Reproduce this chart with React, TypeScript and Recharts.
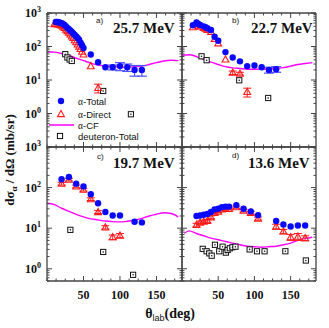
import React from "react";
import { ComposedChart, Scatter, Line, XAxis, YAxis, ErrorBar } from "recharts";

// [angle (deg), value (mb/sr), optional error]
type P = [number, number, number?];

const SERIF = "'Liberation Serif', 'Times New Roman', serif";
const SANS = "'Liberation Sans', Arial, sans-serif";
const FRAME = "#444";
const BLUE = "#0808ff";
const BLUE_ERR = "#5050ff";
const RED = "#ff1a1a";
const MAGENTA = "#ff00ff";

// ---- 25.7 MeV ----
const totalA: P[] = [
  [12, 540], [14, 540], [16, 530], [18, 515], [20, 500], [22, 470], [24, 440],
  [26, 400], [28, 360], [30, 330], [32, 300], [34, 270], [36, 245], [38, 220],
  [40, 200], [42, 180], [44, 160], [46, 130], [48, 110], [50, 90],
  [60, 58], [70, 34], [80, 24], [90, 24, 4], [100, 26, 7], [110, 24, 6], [120, 20, 7], [130, 20, 7],
];
const directA: P[] = [
  [10, 470], [12, 480], [14, 470], [16, 460], [18, 440], [20, 420], [22, 390],
  [24, 360], [26, 320], [28, 290], [30, 260], [32, 230], [34, 200], [36, 180],
  [38, 155], [40, 135], [42, 115], [44, 100], [46, 85], [48, 70], [50, 58],
  [60, 26], [70, 5.8, 1.7],
];
const deutA: P[] = [[25, 59], [28, 47], [31, 41], [34, 37], [77, 4.7], [115, 0.95]];
const cfA: P[] = [
  [0, 70], [10, 68], [20, 62], [30, 54], [40, 45], [50, 38], [60, 32], [70, 28],
  [80, 26], [90, 25], [100, 24.5], [110, 24], [120, 25], [130, 26], [140, 29],
  [150, 33], [160, 37], [170, 39], [180, 38],
];

// ---- 22.7 MeV ----
const totalB: P[] = [
  [15, 430], [20, 525], [22.5, 470], [25, 440], [30, 400], [32.5, 380], [35, 350],
  [40, 310], [45, 195], [50, 148], [60, 68], [70, 47], [80, 36], [90, 26],
  [100, 27], [110, 24], [120, 20, 4], [130, 21, 4],
];
const directB: P[] = [
  [15, 380], [20, 470], [22.5, 420], [25, 390], [30, 360], [32.5, 340], [35, 315],
  [40, 275], [45, 170], [50, 125], [60, 41], [70, 16.5, 2], [80, 15.5, 1.5], [90, 4.4, 1.3],
];
const deutB: P[] = [[27, 51], [34, 39], [79, 9.8], [119, 2.9]];
const cfB: P[] = [
  [0, 55], [10, 57], [20, 50], [30, 41], [40, 34], [50, 29], [60, 25], [70, 23],
  [80, 22], [90, 21], [100, 21], [110, 21], [120, 21.5], [130, 22], [140, 23.5],
  [150, 26], [160, 29], [170, 31], [180, 33],
];

// ---- 19.7 MeV ----
const totalC: P[] = [
  [20, 160], [30, 182], [40, 125], [50, 107], [60, 69], [70, 41], [80, 25],
  [90, 20.6], [100, 20.6], [120, 14.4], [130, 13.9],
];
const directC: P[] = [
  [20, 125, 10], [30, 157, 12], [40, 107, 8], [50, 89, 7], [60, 52, 4], [70, 25, 2],
  [80, 10.5, 1], [90, 6.0, 0.8], [100, 6.6, 0.8],
];
const deutC: P[] = [[32, 9.1], [77, 2.6], [118, 0.71]];
const cfC: P[] = [
  [0, 41], [10, 38], [20, 31], [30, 26], [40, 22], [50, 19], [60, 17], [70, 16],
  [80, 15], [90, 14.5], [100, 14.3], [110, 14.8], [120, 15.8], [130, 17.5],
  [140, 20], [150, 22], [160, 24], [170, 23], [180, 19],
];

// ---- 13.6 MeV ----
const totalD: P[] = [
  [20, 20], [25, 20.5], [30, 21.5], [35, 22.5], [40, 25], [45, 29], [50, 30],
  [55, 33], [60, 34], [65, 34], [75, 37], [85, 30], [95, 26], [105, 21],
  [130, 15], [140, 12.3], [150, 11], [160, 11.6], [170, 11.6],
];
const directD: P[] = [
  [20, 12, 1.2], [25, 13.8, 1.2], [30, 14.6, 1.2], [35, 15.2, 1.2], [40, 18.6, 1.5],
  [45, 24, 1.5], [50, 25.7, 1.5], [55, 29, 1.5], [60, 30, 1.5], [65, 30, 1.5],
  [75, 33, 2], [85, 27, 2], [95, 24, 2], [105, 17.3, 1.5], [130, 11, 1.5],
  [140, 8.3, 1], [150, 6, 1], [160, 6.2, 1.2], [170, 5.7, 0.8],
];
const deutD: P[] = [
  [28.6, 3.1], [34, 2.7], [37.7, 2.4], [41, 2.1], [45.5, 3.9], [51.4, 2.7], [56, 3.5],
  [60.5, 2.5], [63, 2.9], [66, 3.2], [69.7, 3.4], [73.8, 3.5], [93.4, 3.0],
  [103.5, 2.7], [114, 2.7], [142.7, 2.7], [171, 1.6],
];
const cfD: P[] = [
  [3, 7.5], [10, 8.6], [20, 7.4], [30, 6.5], [40, 5.7], [50, 5.2], [60, 4.7],
  [70, 4.3], [80, 3.9], [90, 3.6], [100, 3.5], [110, 3.4], [120, 3.5], [130, 3.6],
  [140, 3.9], [150, 4.3], [160, 5.0], [170, 5.6], [180, 6.0],
];

// ---- axes ----
const X_DOMAIN: [number, number] = [0, 185];
const xMajor = [50, 100, 150];
const xTicks = [0, 12.5, 25, 37.5, 50, 62.5, 75, 87.5, 100, 112.5, 125, 137.5, 150, 162.5, 175];
const decadesAB = [0.1, 1, 10, 100, 1000];
const decadesCD = [1, 10, 100, 1000];
const minorMult = [2, 3, 4, 5, 6, 7, 8, 9];

function logTicks(decades: number[], extraLow: number[] = []) {
  const out = [...extraLow];
  decades.forEach((d, i) => {
    out.push(d);
    if (i < decades.length - 1) minorMult.forEach((m) => out.push(+(d * m).toPrecision(3)));
  });
  return out;
}
const yTicksAB = logTicks(decadesAB);
const yTicksCD = logTicks(decadesCD, [0.5, 0.6, 0.7, 0.8, 0.9]);

const isDecade = (v: number) => Math.abs(Math.log10(v) - Math.round(Math.log10(v))) < 1e-6;

function makeTick(orient: "left" | "right" | "top" | "bottom", labels: boolean) {
  return (p: any) => {
    const { x, y, payload } = p;
    const v = payload.value;
    const major = orient === "left" || orient === "right" ? isDecade(v) : xMajor.includes(v);
    const len = major ? 5 : 2.5;
    let x2 = x;
    let y2 = y;
    if (orient === "left") x2 = x + len;
    else if (orient === "right") x2 = x - len;
    else if (orient === "top") y2 = y + len;
    else y2 = y - len;
    let label = null;
    if (labels && major) {
      if (orient === "left" && v >= 1) {
        label = (
          <text x={x - 6} y={y + 4} textAnchor="end" fontFamily={SERIF} fontWeight="bold" fontSize={12} fill="#111">
            10<tspan dy={-5} fontSize={8}>{Math.round(Math.log10(v))}</tspan>
          </text>
        );
      } else if (orient === "bottom") {
        label = (
          <text x={x} y={y + 18} textAnchor="middle" fontFamily={SERIF} fontWeight="bold" fontSize={12} fill="#111">
            {v}
          </text>
        );
      }
    }
    return (
      <g>
        <line x1={x} y1={y} x2={x2} y2={y2} stroke={FRAME} strokeWidth={1} />
        {label}
      </g>
    );
  };
}

const Dot = (p: any) => <circle cx={p.cx} cy={p.cy} r={3.2} fill={BLUE} />;
const Tri = (p: any) => (
  <path
    d={`M${p.cx},${p.cy - 3.6}L${p.cx + 3.4},${p.cy + 2.6}L${p.cx - 3.4},${p.cy + 2.6}Z`}
    fill="none"
    stroke={RED}
    strokeWidth={1.1}
  />
);
const Sq = (p: any) => (
  <g>
    <rect x={p.cx - 2.6} y={p.cy - 2.6} width={5.2} height={5.2} fill="#fff" stroke="#111" strokeWidth={1} />
    <circle cx={p.cx} cy={p.cy} r={0.8} fill="#111" />
  </g>
);
const NoShape = () => <g />;

const toPts = (a: P[]) => a.map(([x, y, e]) => ({ x, y, e }));
const errPts = (a: P[]) => a.filter((d) => d[2] != null).map(([x, y, e]) => ({ x, y, e }));

type PanelProps = {
  left: number;
  top: number;
  width: number;
  height: number;
  yDomain: [number, number];
  yTicks: number[];
  yLabels: boolean;
  xLabels: boolean;
  total: P[];
  direct: P[];
  deut: P[];
  cf: P[];
};

// left/top/width/height describe the plot area; every axis takes 1px outside it
function Panel(props: PanelProps) {
  const { left, top, width, height, yDomain, yTicks, yLabels, xLabels, total, direct, deut, cf } = props;
  const axisLine = { stroke: FRAME, strokeWidth: 1.3 };
  const common = { tickSize: 0, tickMargin: 0, tickLine: false, interval: 0 as const, allowDataOverflow: true, axisLine };
  return (
    <div style={{ position: "absolute", left: left - 1, top: top - 1, width: width + 2, height: height + 2 }}>
      <ComposedChart width={width + 2} height={height + 2} margin={{ top: 0, right: 0, bottom: 0, left: 0 }}>
        <XAxis xAxisId="b" type="number" dataKey="x" domain={X_DOMAIN} ticks={xTicks} height={1} tick={makeTick("bottom", xLabels)} {...common} />
        <XAxis xAxisId="t" orientation="top" type="number" dataKey="x" domain={X_DOMAIN} ticks={xTicks} height={1} tick={makeTick("top", false)} {...common} />
        <YAxis yAxisId="l" type="number" dataKey="y" scale="log" domain={yDomain} ticks={yTicks} width={1} tick={makeTick("left", yLabels)} {...common} />
        <YAxis yAxisId="r" orientation="right" type="number" dataKey="y" scale="log" domain={yDomain} ticks={yTicks} width={1} tick={makeTick("right", false)} {...common} />
        <Line xAxisId="b" yAxisId="l" data={toPts(cf)} dataKey="y" type="monotone" stroke={MAGENTA} strokeWidth={1.4} dot={false} isAnimationActive={false} />
        <Scatter xAxisId="b" yAxisId="l" data={toPts(deut)} shape={Sq} isAnimationActive={false} />
        <Scatter xAxisId="b" yAxisId="l" data={toPts(direct)} shape={Tri} isAnimationActive={false} />
        <Scatter xAxisId="b" yAxisId="l" data={errPts(direct)} shape={NoShape} isAnimationActive={false}>
          <ErrorBar dataKey="e" direction="y" stroke={RED} width={4} strokeWidth={1} />
        </Scatter>
        <Scatter xAxisId="b" yAxisId="l" data={toPts(total)} shape={Dot} isAnimationActive={false} />
        <Scatter xAxisId="b" yAxisId="l" data={errPts(total)} shape={NoShape} isAnimationActive={false}>
          <ErrorBar dataKey="e" direction="y" stroke={BLUE_ERR} width={5} strokeWidth={1.2} />
        </Scatter>
      </ComposedChart>
    </div>
  );
}

export default function App() {
  const tag = { fontFamily: SANS, fontSize: 8, fill: "#111" };
  const energy = { fontFamily: SERIF, fontSize: 15, fontWeight: "bold" as const, fill: "#111" };
  const legendText = { fontFamily: SANS, fontSize: 9.5, fill: "#111" };
  return (
    <div style={{ position: "relative", width: 329, height: 328, background: "#fff", overflow: "hidden" }}>
      <style>{`body{margin:0}.recharts-surface{overflow:visible}`}</style>
      <Panel left={47} top={13} width={135} height={134} yDomain={[0.1, 1000]} yTicks={yTicksAB} yLabels xLabels={false} total={totalA} direct={directA} deut={deutA} cf={cfA} />
      <Panel left={182} top={13} width={134} height={134} yDomain={[0.1, 1000]} yTicks={yTicksAB} yLabels={false} xLabels={false} total={totalB} direct={directB} deut={deutB} cf={cfB} />
      <Panel left={47} top={147} width={135} height={134} yDomain={[0.5, 1000]} yTicks={yTicksCD} yLabels xLabels total={totalC} direct={directC} deut={deutC} cf={cfC} />
      <Panel left={182} top={147} width={134} height={134} yDomain={[0.5, 1000]} yTicks={yTicksCD} yLabels={false} xLabels total={totalD} direct={directD} deut={deutD} cf={cfD} />
      <svg width={329} height={328} style={{ position: "absolute", left: 0, top: 0, pointerEvents: "none" }}>
        <text x={96} y={23} {...tag}>a)</text>
        <text x={232} y={23} {...tag}>b)</text>
        <text x={97} y={159} {...tag}>c)</text>
        <text x={232} y={158} {...tag}>d)</text>
        <text x={113} y={33} {...energy}>25.7 MeV</text>
        <text x={251} y={33} {...energy}>22.7 MeV</text>
        <text x={113} y={168} {...energy}>19.7 MeV</text>
        <text x={248} y={168} {...energy}>13.6 MeV</text>

        <circle cx={61} cy={101} r={3.2} fill={BLUE} />
        <text x={78} y={104.5} {...legendText}><tspan fontFamily={SERIF}>α</tspan>-Total</text>
        <path d="M61,110.4L64.4,116.6L57.6,116.6Z" fill="none" stroke={RED} strokeWidth={1.1} />
        <text x={78} y={117.5} {...legendText}><tspan fontFamily={SERIF}>α</tspan>-Direct</text>
        <line x1={49} y1={125} x2={74} y2={125} stroke={MAGENTA} strokeWidth={1.5} />
        <text x={78} y={128.5} {...legendText}><tspan fontFamily={SERIF}>α</tspan>-CF</text>
        <rect x={57.4} y={133.4} width={5.2} height={5.2} fill="#fff" stroke="#111" strokeWidth={1} />
        <text x={78} y={139.5} {...legendText}>deuteron-Total</text>

        <text transform="translate(14,160) rotate(-90)" textAnchor="middle" fontFamily={SERIF} fontWeight="bold" fontSize={13} fill="#111">
          dσ<tspan dy={3} fontSize={9}>α</tspan><tspan dy={-3}> / dΩ (mb/sr)</tspan>
        </text>
        <text x={170} y={318} textAnchor="middle" fontFamily={SERIF} fontWeight="bold" fontSize={14} fill="#111">
          θ<tspan dy={3} fontSize={9} fontFamily={SANS} fontWeight="normal">lab</tspan><tspan dy={-3}>(deg)</tspan>
        </text>
      </svg>
    </div>
  );
}
